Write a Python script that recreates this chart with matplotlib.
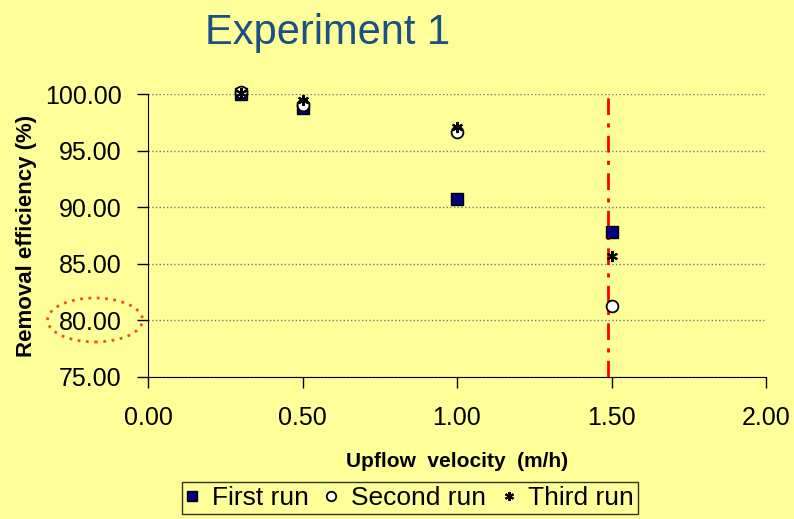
import matplotlib
matplotlib.use("Agg")
import matplotlib.pyplot as plt
from matplotlib.patches import Ellipse

plt.rcParams['font.family'] = ['Liberation Sans', 'DejaVu Sans']

# data
velocity = [0.3, 0.5, 1.0, 1.5]
first_run = [100.0, 98.75, 90.75, 87.85]
second_run = [100.15, 99.05, 96.6, 81.3]
third_run = [100.1, 99.45, 97.1, 85.7]
limit_velocity = 1.49

bg = '#FFFF99'

fig = plt.figure(figsize=(7.94, 5.19), dpi=100, facecolor=bg)
ax = fig.add_axes([148/794, 1-377/519, (766-148)/794, (377-94)/519])
ax.set_facecolor(bg)

ax.plot(velocity, first_run, 's', color='#000080', mec='black', mew=1.0, ms=8.5, label='First run', zorder=3, clip_on=False)
ax.plot(velocity, second_run, 'o', color='white', mec='black', mew=1.3, ms=8.5, label='Second run', zorder=4, clip_on=False)
ax.plot(velocity, third_run, linestyle='none', marker=(6, 2, 0), color='black', mew=1.5, ms=8, label='Third run', zorder=5, clip_on=False)

ax.plot([limit_velocity, limit_velocity], [75, 99.8], color='red', lw=2, linestyle=(0, (6, 3, 1.5, 3)), zorder=2, clip_on=False)

ax.set_xlim(0, 2)
ax.set_ylim(75, 100)
ax.set_xticks([0, 0.5, 1.0, 1.5, 2.0])
ax.set_yticks([75, 80, 85, 90, 95, 100])
ax.set_xticklabels(['%.2f' % v for v in [0, 0.5, 1.0, 1.5, 2.0]])
ax.set_yticklabels(['%.2f' % v for v in [75, 80, 85, 90, 95, 100]])
ax.tick_params(direction='out', length=8, width=1, labelsize=18)
ax.tick_params(axis='x', pad=13)
ax.tick_params(axis='y', pad=11)
ax.yaxis.grid(True, linestyle=':', color='#777777', lw=1)
ax.set_axisbelow(True)
for s in ['top', 'right']:
    ax.spines[s].set_visible(False)
ax.set_xlabel('Upflow  velocity  (m/h)', fontsize=15, fontweight='bold', labelpad=16)
ax.set_ylabel('Removal efficiency (%)', fontsize=16, fontweight='bold', labelpad=6)

fig.text(328/794, 1-33/519, 'Experiment 1', fontsize=30, color='#1D5082', ha='center', va='center')

leg = fig.legend(loc='center', bbox_to_anchor=(410/794, 1-498/519), ncol=3, fontsize=19,
                 frameon=True, fancybox=False, edgecolor='black', facecolor=bg,
                 handlelength=0.5, handletextpad=0.5, columnspacing=0.6, borderpad=0.15, markerscale=0.8)
leg.get_frame().set_linewidth(1.0)

# dotted highlight around the 80.00 label
ell = Ellipse((95/794, 1-320/519), 95/794, 44/519, transform=fig.transFigure,
              fill=False, edgecolor='#F05020', linestyle=(0, (1, 2)), lw=2)
fig.patches.append(ell)

fig.savefig('out.png', dpi=100, facecolor=bg)
